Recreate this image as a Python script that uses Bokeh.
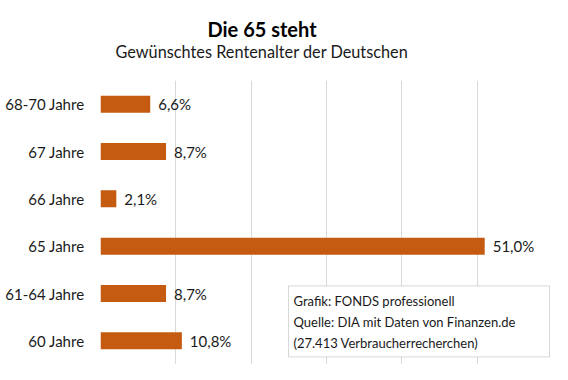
from bokeh.plotting import figure
from bokeh.models import FactorRange, Range1d, FixedTicker, Label, BoxAnnotation, ColumnDataSource, Title
from bokeh.core.properties import value
from bokeh.embed import file_html
from bokeh.resources import INLINE

# data (bottom to top)
categories = ["60 Jahre", "61-64 Jahre", "65 Jahre", "66 Jahre", "67 Jahre", "68-70 Jahre"]
shares = [10.8, 8.7, 51.0, 2.1, 8.7, 6.6]
x_ticks = [0, 10, 20, 30, 40, 50, 60]
title_text = "Die 65 steht"
subtitle_text = "Gewünschtes Rentenalter der Deutschen"
note_lines = ["Grafik: FONDS professionell",
              "Quelle: DIA mit Daten von Finanzen.de",
              "(27.413 Verbraucherrecherchen)"]

FONT = "Lato"
BAR = "#C55A11"
TXT = "#1a1a1a"

labels = [f"{v:.1f}".replace(".", ",") + "%" for v in shares]
src = ColumnDataSource(dict(cat=categories, v=shares, lab=labels))

p = figure(width=552, height=364, output_backend="svg", toolbar_location=None,
           y_range=FactorRange(factors=categories, range_padding=0),
           x_range=Range1d(0, 60), x_axis_location=None, title=None,
           min_border_left=100, min_border_right=0, min_border_top=80, min_border_bottom=0)
p.outline_line_color = None
p.background_fill_color = "white"
p.border_fill_color = "white"

p.xgrid[0].ticker = FixedTicker(ticks=x_ticks)
p.xgrid.grid_line_color = "#d9d9d9"
p.xgrid.grid_line_width = 1
p.ygrid.grid_line_color = None

ax = p.yaxis[0]
ax.axis_line_color = None
ax.major_tick_line_color = None
ax.minor_tick_line_color = None
ax.major_tick_out = 0
ax.major_tick_in = 0
ax.major_label_standoff = 16
ax.major_label_text_font = FONT
ax.major_label_text_font_size = "15px"
ax.major_label_text_color = TXT

p.hbar(y="cat", right="v", left=0, height=0.36, source=src, color=BAR, line_color=None)
p.text(x="v", y="cat", text="lab", source=src, x_offset=8, text_align="left",
       text_baseline="middle", text_font=value(FONT), text_font_size="15px", text_color=TXT)

# subtitle (nearest to frame), then title
p.add_layout(Title(text=subtitle_text, align="left", offset=15, standoff=39,
                   text_font=FONT, text_font_size="16.3px", text_font_style="normal",
                   text_color=TXT), "above")
p.add_layout(Title(text=title_text, align="left", offset=107, standoff=-40,
                   text_font=FONT, text_font_size="20px", text_font_style="bold",
                   text_color="black"), "above")

# note box (screen units relative to frame bottom-left)
p.add_layout(BoxAnnotation(left=188, right=449, bottom=7.6, top=78.6,
                           left_units="screen", right_units="screen",
                           bottom_units="screen", top_units="screen",
                           fill_color="white", fill_alpha=1, line_color="#7f7f7f", line_width=1))
for i, t in enumerate(note_lines):
    p.add_layout(Label(x=193, y=63.6 - 21 * i, x_units="screen", y_units="screen", text=t,
                       text_align="left", text_baseline="middle", text_font=FONT,
                       text_font_size="13px", text_color=TXT))

open("out.html", "w").write(file_html(p, INLINE))
